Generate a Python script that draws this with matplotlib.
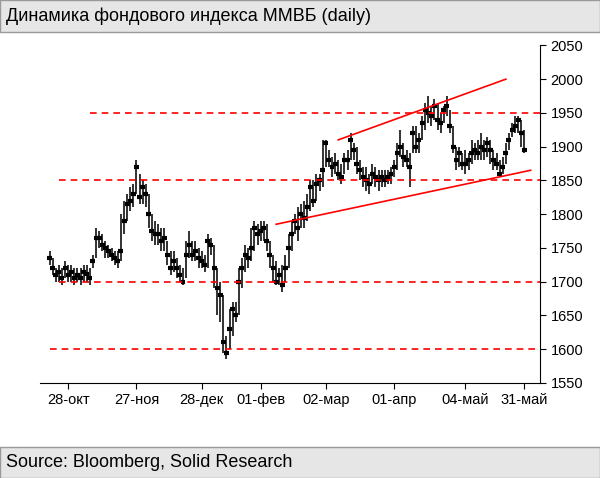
import matplotlib.pyplot as plt
import numpy as np
import pandas as pd

# trading days: 20 Oct 2009 - 31 May 2010, no trading 1-8 Jan
dates = pd.bdate_range("2009-10-20", "2010-05-31")
dates = dates[~((dates >= "2010-01-01") & (dates <= "2010-01-08"))]

close = [1735, 1720, 1710, 1715, 1705, 1720, 1710, 1715, 1705,
         1710, 1705, 1715, 1712, 1705, 1730, 1765, 1765, 1755, 1750, 1745,
         1740, 1735, 1730, 1745, 1790, 1815, 1820, 1830, 1870, 1825,
         1840, 1830, 1800, 1775, 1770, 1770, 1760, 1765, 1740, 1720, 1730,
         1720, 1710, 1700, 1740, 1755, 1740, 1745, 1735, 1730, 1725, 1760, 1755,
         1720, 1690, 1680, 1610, 1595, 1630, 1660, 1650, 1700, 1720, 1740,
         1735, 1750, 1780, 1770,
         1775, 1780, 1760, 1740, 1720, 1700, 1710, 1695, 1720, 1750,
         1770, 1790, 1780, 1800, 1795, 1810, 1840, 1820, 1845, 1850,
         1865, 1905, 1880, 1870, 1875, 1860, 1855, 1880, 1880, 1910, 1895,
         1875, 1865, 1855, 1850, 1845, 1860, 1855, 1850, 1855, 1850, 1855, 1860,
         1870, 1890, 1900, 1885, 1880, 1870, 1920, 1900, 1910, 1935, 1955,
         1950, 1945, 1960, 1940, 1935, 1955, 1960, 1930, 1900, 1880, 1890,
         1875, 1875, 1880, 1890, 1895, 1890, 1900, 1895, 1905, 1895, 1880,
         1875, 1860, 1870, 1890, 1910, 1925, 1930, 1940, 1920, 1895]
high = [1745, 1735, 1720, 1725, 1720, 1730, 1725, 1725, 1720,
        1720, 1720, 1725, 1725, 1720, 1740, 1780, 1775, 1770, 1760, 1755,
        1750, 1745, 1745, 1800, 1820, 1830, 1840, 1845, 1880, 1860,
        1850, 1845, 1830, 1800, 1790, 1785, 1780, 1780, 1760, 1745, 1745,
        1735, 1725, 1720, 1760, 1775, 1760, 1760, 1750, 1745, 1740, 1770, 1765,
        1755, 1720, 1700, 1680, 1620, 1660, 1670, 1670, 1720, 1735, 1755,
        1750, 1780, 1790, 1785,
        1790, 1790, 1785, 1760, 1740, 1730, 1720, 1725, 1740, 1770,
        1790, 1800, 1810, 1815, 1820, 1830, 1850, 1850, 1860, 1860,
        1910, 1910, 1895, 1885, 1890, 1880, 1875, 1890, 1895, 1920, 1905,
        1900, 1880, 1870, 1870, 1860, 1875, 1870, 1865, 1865, 1865, 1865, 1870,
        1880, 1905, 1925, 1905, 1895, 1890, 1930, 1930, 1920, 1945, 1965,
        1975, 1960, 1970, 1965, 1950, 1960, 1975, 1955, 1930, 1900, 1900,
        1890, 1895, 1890, 1910, 1905, 1910, 1920, 1910, 1915, 1910, 1895,
        1890, 1880, 1885, 1905, 1920, 1935, 1945, 1945, 1940, 1925]
low = [1725, 1710, 1700, 1700, 1695, 1705, 1700, 1700, 1695,
       1700, 1695, 1700, 1700, 1695, 1720, 1735, 1750, 1745, 1735, 1735,
       1730, 1725, 1720, 1730, 1770, 1790, 1805, 1810, 1830, 1815,
       1815, 1810, 1780, 1760, 1755, 1755, 1745, 1745, 1725, 1710, 1715,
       1705, 1700, 1695, 1705, 1735, 1730, 1730, 1720, 1720, 1715, 1720, 1740,
       1690, 1650, 1640, 1595, 1585, 1600, 1620, 1640, 1650, 1690, 1715,
       1720, 1730, 1745, 1755,
       1760, 1760, 1745, 1720, 1700, 1695, 1695, 1685, 1700, 1720,
       1745, 1770, 1760, 1780, 1780, 1790, 1805, 1810, 1820, 1835,
       1840, 1870, 1870, 1855, 1860, 1850, 1845, 1860, 1865, 1880, 1880,
       1860, 1850, 1840, 1835, 1830, 1845, 1840, 1835, 1840, 1840, 1845, 1845,
       1855, 1865, 1885, 1870, 1870, 1840, 1890, 1890, 1890, 1910, 1925,
       1935, 1930, 1940, 1925, 1920, 1935, 1945, 1920, 1890, 1865, 1870,
       1865, 1860, 1865, 1875, 1880, 1880, 1880, 1880, 1885, 1875, 1865,
       1865, 1855, 1860, 1875, 1895, 1915, 1920, 1920, 1900, 1890]

tick_dates = ["2009-10-28", "2009-11-27", "2009-12-28", "2010-02-01",
              "2010-03-02", "2010-04-01", "2010-05-04", "2010-05-31"]
tick_labels = ["28-окт", "27-ноя", "28-дек", "01-фев", "02-мар", "01-апр", "04-май", "31-май"]

levels = [1950, 1850, 1700, 1600]
level_start = [13, 3, 3, 0]
upper_trend = ([93, 147], [1910, 2000])
lower_trend = ([73, 155], [1785, 1865])

fig = plt.figure(figsize=(6, 4.78), dpi=100)
fig.patches.append(plt.Rectangle((0, 0.933), 1, 0.067, transform=fig.transFigure,
                                 facecolor="#e6e6e6", edgecolor="#999999", lw=1))
fig.patches.append(plt.Rectangle((0, 0), 1, 0.065, transform=fig.transFigure,
                                 facecolor="#e6e6e6", edgecolor="#999999", lw=1))
fig.text(0.01, 0.965, "Динамика фондового индекса ММВБ (daily)", fontsize=13,
         va="center", family="Liberation Sans")
fig.text(0.01, 0.032, "Source: Bloomberg, Solid Research", fontsize=13,
         va="center", family="Liberation Sans")

ax = fig.add_axes([0.067, 0.199, 0.833, 0.706])
x = np.arange(len(close))
ax.vlines(x, low, high, color="#222222", lw=1.3)
ax.hlines(close, x - 0.8, x + 0.8, color="black", lw=3)

for lv, st in zip(levels, level_start):
    ax.plot([st, 158], [lv, lv], color="red", ls=(0, (4, 3)), lw=1.2)
ax.plot(*upper_trend, color="red", lw=1.2)
ax.plot(*lower_trend, color="red", lw=1.2)

pos = [dates.get_loc(pd.Timestamp(d)) for d in tick_dates]
ax.set_xticks(pos)
ax.set_xticklabels(tick_labels, fontsize=10.5, family="Liberation Sans")
ax.set_xlim(-3, 158)
ax.set_ylim(1550, 2050)
ax.set_yticks(range(1550, 2051, 50))
ax.yaxis.tick_right()
ax.tick_params(axis="y", labelsize=10.5, direction="out", length=4)
ax.tick_params(axis="x", direction="out", length=4)
for lab in ax.get_yticklabels():
    lab.set_family("Liberation Sans")
ax.spines["left"].set_visible(False)
ax.spines["top"].set_visible(False)

fig.savefig("out.png", dpi=100)
